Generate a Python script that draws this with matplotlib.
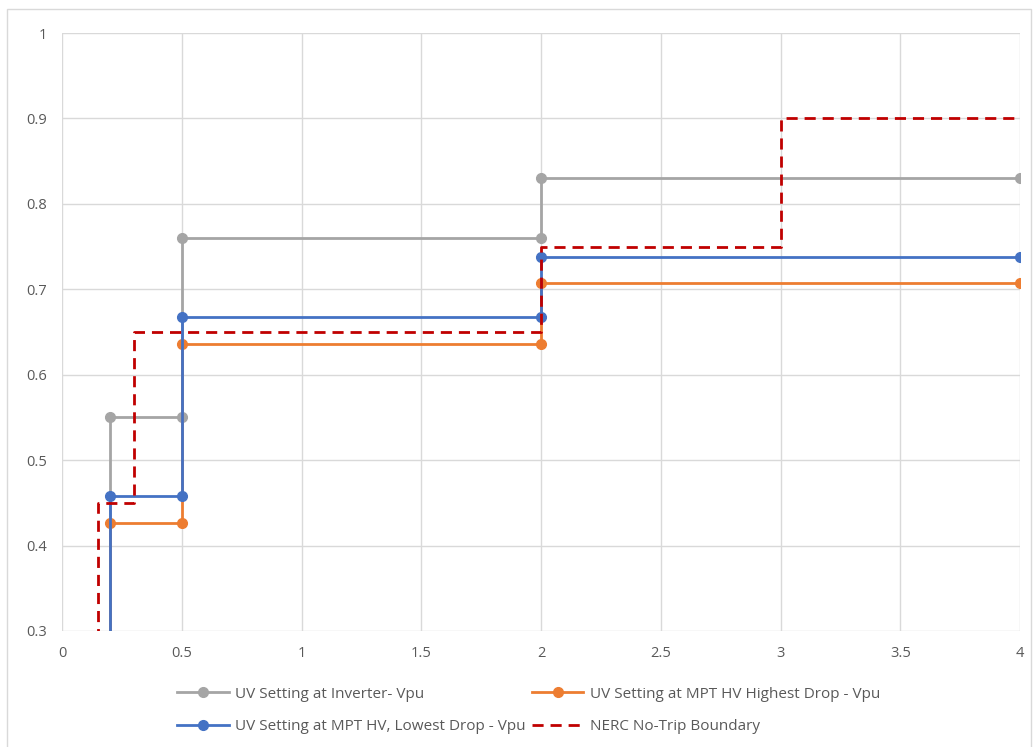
import numpy as np
import matplotlib.pyplot as plt
from matplotlib.ticker import FuncFormatter

plt.rcParams['font.family'] = ['Open Sans', 'DejaVu Sans']

# step points (first points sit below the visible range, clipped)
x_uv = [0.2, 0.2, 0.5, 0.5, 2, 2, 4]
y_inv = [0.0, 0.55, 0.55, 0.76, 0.76, 0.83, 0.83]
y_high = [0.0, 0.427, 0.427, 0.636, 0.636, 0.707, 0.707]
y_low = [0.0, 0.458, 0.458, 0.668, 0.668, 0.738, 0.738]

x_nerc = [0.15, 0.15, 0.3, 0.3, 2, 2, 3, 3, 4]
y_nerc = [0.0, 0.45, 0.45, 0.65, 0.65, 0.75, 0.75, 0.9, 0.9]

labels = ['UV Setting at Inverter- Vpu',
          'UV Setting at MPT HV Highest Drop - Vpu',
          'UV Setting at MPT HV, Lowest Drop - Vpu',
          'NERC No-Trip Boundary']

txt = '#595959'

fig = plt.figure(figsize=(10.36, 7.47), dpi=100)
ax = fig.add_axes([0.06, 0.1553, 0.9246, 0.8005])

l1, = ax.plot(x_uv, y_inv, color='#A5A5A5', lw=2, marker='o', ms=7, label=labels[0])
l2, = ax.plot(x_uv, y_high, color='#ED7D31', lw=2, marker='o', ms=7, label=labels[1])
l3, = ax.plot(x_uv, y_low, color='#4472C4', lw=2, marker='o', ms=7, label=labels[2])
l4, = ax.plot(x_nerc, y_nerc, color='#C00000', lw=2, ls=(0, (4, 2.5)), label=labels[3])

ax.set_xlim(0, 4)
ax.set_ylim(0.3, 1)
ax.set_xticks(np.arange(0, 4.01, 0.5))
ax.set_yticks(np.arange(0.3, 1.01, 0.1))
fmt = FuncFormatter(lambda v, p: '%g' % round(v, 2))
ax.xaxis.set_major_formatter(fmt)
ax.yaxis.set_major_formatter(fmt)
ax.grid(True, color='#D9D9D9', lw=1)
ax.set_axisbelow(True)
for s in ax.spines.values():
    s.set_visible(False)
ax.tick_params(length=0, colors=txt, labelsize=10.5, pad=11)

# legend is filled column-wise, so order for Excel-like rows
fig.legend(handles=[l1, l3, l2, l4], labels=[labels[0], labels[2], labels[1], labels[3]],
           ncol=2, loc='center', bbox_to_anchor=(0.51, 0.049), frameon=False,
           fontsize=11, labelcolor=txt, handlelength=3.4, columnspacing=0.4,
           handletextpad=0.4, labelspacing=1.15)

fig.patches.append(plt.Rectangle((7 / 1036, -0.01), 1024 / 1036, 1.01 - 9 / 747,
                                 transform=fig.transFigure, fill=False,
                                 edgecolor='#D9D9D9', lw=1))

fig.savefig('out.png', dpi=100)
